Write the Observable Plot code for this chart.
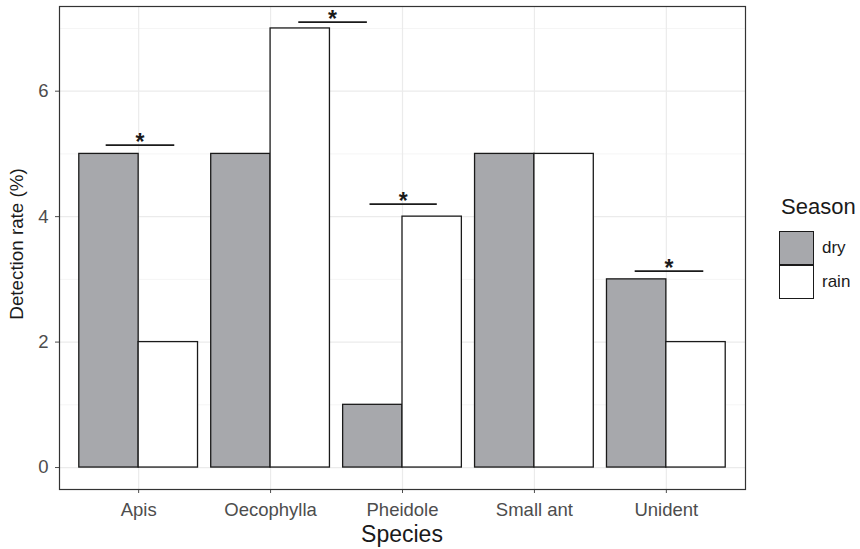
<!DOCTYPE html>
<html>
<head>
<meta charset="utf-8">
<script src="https://cdn.jsdelivr.net/npm/d3@7"></script>
<script src="https://cdn.jsdelivr.net/npm/@observablehq/plot@0.6"></script>
<style>
  body { margin: 0; background: #fff; font-family: "Liberation Sans", Arial, sans-serif; }
  #wrap { position: relative; width: 860px; height: 549px; }
  .lbl { position: absolute; color: #1a1a1a; white-space: nowrap; line-height: 1; }
</style>
</head>
<body>
<div id="wrap"></div>
<script>
const species = ["Apis", "Oecophylla", "Pheidole", "Small ant", "Unident"];
const seasons = ["dry", "rain"];
const dryValues = [5, 5, 1, 5, 3];
const rainValues = [2, 7, 4, 5, 2];
const seasonColors = ["#a7a8ac", "#ffffff"];

// significance markers
const sigSpecies = ["Apis", "Oecophylla", "Pheidole", "Unident"];
const sigY = [5.14, 7.1, 4.2, 3.13];
const sigFrom = [-0.25, 0.21, -0.25, -0.24];
const sigTo = [0.27, 0.73, 0.26, 0.28];

const majorY = [0, 2, 4, 6];
const minorY = [1, 3, 5, 7];

const half = 0.45;
const data = [];
species.forEach((s, i) => {
  data.push({species: s, season: "dry", value: dryValues[i], i: i + 1});
  data.push({species: s, season: "rain", value: rainValues[i], i: i + 1});
});
const sig = sigSpecies.map((s, k) => ({
  species: s, y: sigY[k],
  x1: species.indexOf(s) + 1 + sigFrom[k],
  x2: species.indexOf(s) + 1 + sigTo[k]
}));

const plot = Plot.plot({
  width: 860,
  height: 549,
  marginLeft: 59,
  marginRight: 115,
  marginTop: 6,
  marginBottom: 60,
  style: {fontFamily: "'Liberation Sans', Arial, sans-serif", fontSize: "18.5px", color: "#4d4d4d", background: "#fff"},
  x: {domain: [0.4, 5.6], ticks: 5, tickFormat: d => species[d - 1], tickSize: 4, tickPadding: 9, label: null},
  y: {domain: [-0.35, 7.35], ticks: 4, tickSize: 4, tickPadding: 7, label: null},
  color: {domain: seasons, range: seasonColors},
  marks: [
    Plot.ruleY(minorY, {stroke: "#f2f2f2", strokeWidth: 0.8}),
    Plot.ruleY(majorY, {stroke: "#ebebeb", strokeWidth: 1.2}),
    Plot.ruleX(species.map((s, i) => i + 1), {stroke: "#ebebeb", strokeWidth: 1.2}),
    Plot.rectY(data, {
      x1: d => d.season === "dry" ? d.i - half : d.i,
      x2: d => d.season === "dry" ? d.i : d.i + half,
      y1: 0, y2: "value",
      fill: "season", stroke: "#1a1a1a", strokeWidth: 1.3
    }),
    Plot.link(sig, {x1: "x1", x2: "x2", y1: "y", y2: "y", stroke: "#1a1a1a", strokeWidth: 1.8}),
    Plot.text(sig, {x: d => (d.x1 + d.x2) / 2, y: "y", text: () => "*", dy: 5, fontSize: 23, fontWeight: "bold", fill: "#1a1a1a", lineAnchor: "bottom"}),
    Plot.frame({stroke: "#333333", strokeWidth: 1.2})
  ]
});
const wrap = document.getElementById("wrap");
wrap.appendChild(plot);

function addLabel(text, css) {
  const d = document.createElement("div");
  d.className = "lbl";
  d.textContent = text;
  Object.assign(d.style, css);
  wrap.appendChild(d);
  return d;
}
addLabel("Species", {left: "402px", top: "523px", fontSize: "23px", transform: "translateX(-50%)"});
addLabel("Detection rate (%)", {left: "17px", top: "244px", fontSize: "18.8px", transform: "translate(-50%, -50%) rotate(-90deg)"});
addLabel("Season", {left: "781px", top: "196px", fontSize: "22px"});
seasons.forEach((s, k) => {
  const top = 231 + k * 34;
  const sw = document.createElement("div");
  Object.assign(sw.style, {position: "absolute", left: "779px", top: top + "px", width: "35px", height: "34px",
    background: seasonColors[k], border: "1.4px solid #1a1a1a", boxSizing: "border-box"});
  wrap.appendChild(sw);
  addLabel(s, {left: "822px", top: (top + 17) + "px", fontSize: "17px", transform: "translateY(-55%)"});
});
</script>
</body>
</html>
